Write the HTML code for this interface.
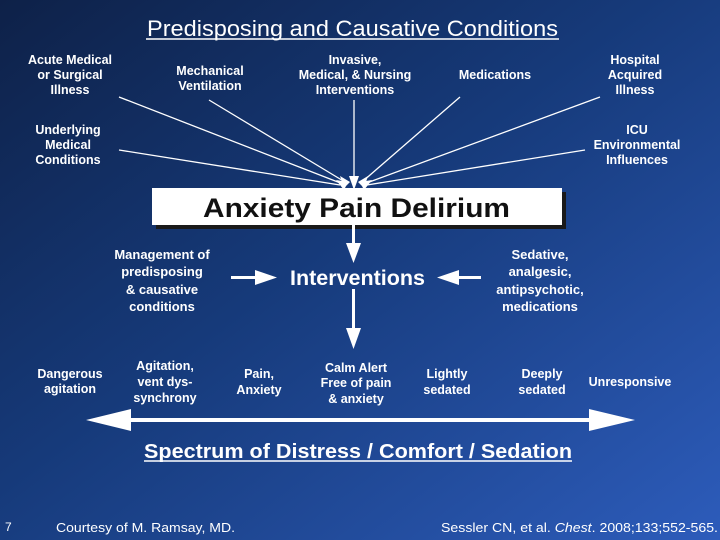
<!DOCTYPE html>
<html><head><meta charset="utf-8"><style>
html,body{margin:0;padding:0;width:720px;height:540px;overflow:hidden}
svg{display:block}
text{font-family:"Liberation Sans",Arial,sans-serif;fill:#fff}
.b{font-weight:bold;font-size:12.5px;text-anchor:middle}
.s{font-weight:bold;font-size:13px;text-anchor:middle}
</style></head><body>
<svg width="720" height="540" viewBox="0 0 720 540">
<defs>
<linearGradient id="g" x1="0" y1="0" x2="1" y2="1">
<stop offset="0" stop-color="#0e2148"/>
<stop offset="0.45" stop-color="#163a7a"/>
<stop offset="1" stop-color="#2d5cbb"/>
</linearGradient>
</defs>
<rect width="720" height="540" fill="url(#g)"/>
<text x="147" y="36" font-size="22" textLength="411" lengthAdjust="spacingAndGlyphs">Predisposing and Causative Conditions</text>
<line x1="146" y1="39" x2="559" y2="39" stroke="#fff" stroke-width="1.5"/>

<g>
<text class="b" x="70" y="64">Acute Medical</text><text class="b" x="70" y="79">or Surgical</text><text class="b" x="70" y="94">Illness</text>
<text class="b" x="210" y="75">Mechanical</text><text class="b" x="210" y="90">Ventilation</text>
<text class="b" x="355" y="64">Invasive,</text><text class="b" x="355" y="79">Medical, &amp; Nursing</text><text class="b" x="355" y="94">Interventions</text>
<text class="b" x="495" y="79">Medications</text>
<text class="b" x="635" y="64">Hospital</text><text class="b" x="635" y="79">Acquired</text><text class="b" x="635" y="94">Illness</text>
<text class="b" x="68" y="134">Underlying</text><text class="b" x="68" y="149">Medical</text><text class="b" x="68" y="164">Conditions</text>
<text class="b" x="637" y="134">ICU</text><text class="b" x="637" y="149">Environmental</text><text class="b" x="637" y="164">Influences</text>
</g>
<g stroke="#fff" stroke-width="1.3">
<line x1="119" y1="97" x2="343" y2="184"/>
<line x1="209" y1="100" x2="345" y2="182"/>
<line x1="119" y1="150" x2="340" y2="185"/>
<line x1="354" y1="100" x2="354" y2="182"/>
<line x1="460" y1="97" x2="362" y2="182"/>
<line x1="600" y1="97" x2="364" y2="184"/>
<line x1="585" y1="150" x2="367" y2="185"/>
</g>
<g fill="#fff">
<polygon points="336,180 348,182 344,190"/>
<polygon points="340,176 350,182 344,188"/>
<polygon points="349,176 359,176 354,190"/>
<polygon points="358,182 368,176 364,188"/>
<polygon points="360,182 372,180 364,190"/>
</g>
<rect x="156" y="192" width="410" height="37" fill="#1a1a1a"/>
<rect x="152" y="188" width="410" height="37" fill="#fff"/>
<text x="203" y="217" font-size="27" font-weight="bold" textLength="307" lengthAdjust="spacingAndGlyphs" style="fill:#111">Anxiety Pain Delirium</text>

<g fill="#fff" stroke="none">
<rect x="352" y="225" width="3" height="20"/><polygon points="346,243 361,243 353.5,263"/>
<rect x="352" y="289" width="3" height="40"/><polygon points="346,328 361,328 353.5,349"/>
<rect x="231" y="276" width="25" height="3"/><polygon points="255,270 255,285 277,277.5"/>
<rect x="457" y="276" width="24" height="3"/><polygon points="459,270 459,285 437,277.5"/>
</g>
<text x="290" y="285" font-size="21" font-weight="bold" textLength="135" lengthAdjust="spacingAndGlyphs">Interventions</text>
<g>
<text class="s" x="162" y="259">Management of</text><text class="s" x="162" y="276">predisposing</text><text class="s" x="162" y="294">&amp; causative</text><text class="s" x="162" y="311">conditions</text>
<text class="s" x="540" y="259">Sedative,</text><text class="s" x="540" y="276">analgesic,</text><text class="s" x="540" y="294">antipsychotic,</text><text class="s" x="540" y="311">medications</text>
</g>
<g>
<text class="b" x="70" y="378">Dangerous</text><text class="b" x="70" y="393">agitation</text>
<text class="b" x="165" y="370">Agitation,</text><text class="b" x="165" y="386">vent dys-</text><text class="b" x="165" y="402">synchrony</text>
<text class="b" x="259" y="378">Pain,</text><text class="b" x="259" y="394">Anxiety</text>
<text class="b" x="356" y="372">Calm Alert</text><text class="b" x="356" y="387">Free of pain</text><text class="b" x="356" y="403">&amp; anxiety</text>
<text class="b" x="447" y="378">Lightly</text><text class="b" x="447" y="394">sedated</text>
<text class="b" x="542" y="378">Deeply</text><text class="b" x="542" y="394">sedated</text>
<text class="b" x="630" y="386">Unresponsive</text>
</g>
<g fill="#fff">
<polygon points="86,420 131,409 131,431"/>
<polygon points="635,420 589,409 589,431"/>
<rect x="128" y="418" width="464" height="4"/>
</g>
<text x="144" y="458" font-size="20" font-weight="bold" textLength="428" lengthAdjust="spacingAndGlyphs">Spectrum of Distress / Comfort / Sedation</text>
<line x1="144" y1="461" x2="572" y2="461" stroke="#fff" stroke-width="1.5"/>
<text x="5" y="531" font-size="12">7</text>
<text x="56" y="532" font-size="13" textLength="179" lengthAdjust="spacingAndGlyphs">Courtesy of M. Ramsay, MD.</text>
<text x="441" y="532" font-size="13" textLength="277" lengthAdjust="spacingAndGlyphs">Sessler CN, et al. <tspan font-style="italic">Chest</tspan>. 2008;133;552-565.</text>
</svg>
</body></html>
